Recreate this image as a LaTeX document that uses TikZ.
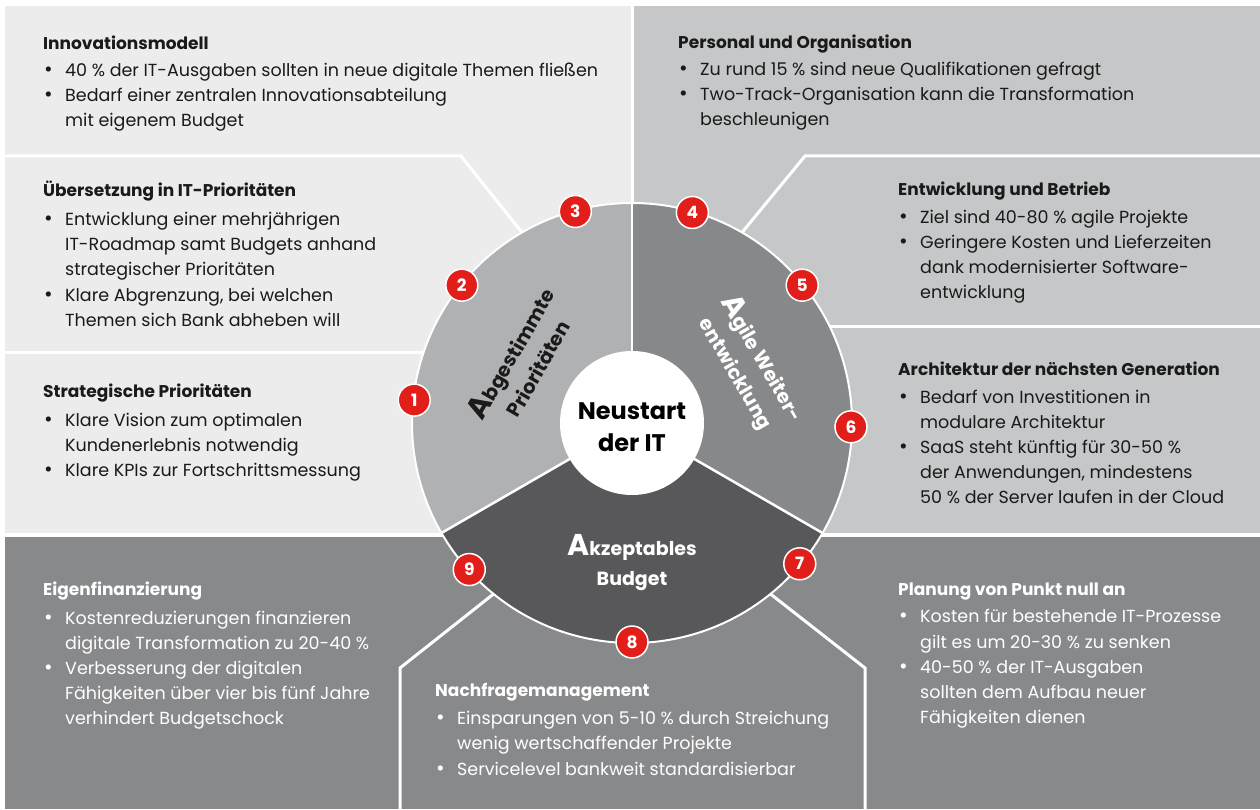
\documentclass[tikz,border=0pt]{standalone}
\usepackage{fontspec}
\setmainfont{Poppins}
\usepackage{tikz}
\usetikzlibrary{positioning}

\definecolor{bglight}{RGB}{235,236,235}
\definecolor{bgmid}{RGB}{198,199,200}
\definecolor{bgdark}{RGB}{136,137,139}
\definecolor{secleft}{RGB}{176,177,179}
\definecolor{secright}{RGB}{135,136,138}
\definecolor{secbottom}{RGB}{88,88,90}
\definecolor{badgered}{RGB}{226,30,26}
\definecolor{ink}{RGB}{26,26,26}

\newcommand{\itm}{\makebox[22pt][l]{\hspace{1pt}{\fontsize{21}{21}\selectfont\textbullet}}}
\newcommand{\cnt}{\hspace*{22pt}}
\newcommand{\hd}[1]{{\fontsize{17}{24}\selectfont\bfseries #1}}
\newcommand{\capA}{{\fontsize{30}{30}\selectfont A}}

\begin{document}
\begin{tikzpicture}[x=1pt,y=1pt]
\tikzstyle{blk}=[anchor=north west,align=left,inner sep=0pt,font=\fontsize{17.5}{25.2}\selectfont,text=ink]
\tikzstyle{blkw}=[blk,text=white]
\tikzstyle{badge}=[circle,fill=badgered,draw=white,line width=1.5pt,minimum size=32pt,inner sep=0pt,text=white,font=\fontsize{17}{17}\selectfont\bfseries]
\tikzstyle{divider}=[draw=white,line width=3pt]
\tikzstyle{ring}=[draw=white,line width=2pt]

\useasboundingbox (0,0) rectangle (1260,809);
\fill[white] (0,0) rectangle (1260,809);
\fill[bgdark] (5,0) rectangle (1260,803);
\fill[bglight] (5,274) rectangle (632,803);
\fill[bgmid] (632,274) rectangle (1260,803);

\coordinate (C) at (632,386);

\draw[divider] (5,274) -- (1260,274);
\draw[divider] (632,803) -- (C);
\draw[divider] (5,653) -- (461,653) -- ([shift={(120:220)}]C);
\draw[divider] (5,456) -- (520,456);
\draw[divider] (1260,653) -- (805,653) -- ([shift={(60:220)}]C);
\draw[divider] (1260,482) -- (760,482);
\draw[divider] (400,0) -- (400,141) -- ([shift={(-129:220)}]C);
\draw[divider] (865,0) -- (865,141) -- ([shift={(-51:220)}]C);

\fill[secleft] (C) -- ++(90:220) arc (90:210:220) -- cycle;
\fill[secright] (C) -- ++(-30:220) arc (-30:90:220) -- cycle;
\fill[secbottom] (C) -- ++(210:220) arc (210:330:220) -- cycle;
\draw[ring] (C) circle (220);
\foreach \a in {90,210,330}
  \draw[ring,line width=2.5pt] (C) -- ++(\a:220);
\fill[white] (C) circle (72);

\node[align=center,text=black,font=\fontsize{24}{32}\selectfont\bfseries] (core) at ([yshift=-4pt]C) {Neustart\\der IT};
\node[align=center,text=ink,rotate=60,font=\fontsize{19.5}{29.5}\selectfont\bfseries] (prio) at ([shift={(150:126)}]C) {\capA bgestimmte\\Prioritäten};
\node[align=center,text=white,rotate=-60,font=\fontsize{19.5}{29.5}\selectfont\bfseries] (agil) at ([shift={(26:131)}]C) {\capA gile Weiter-\\entwicklung};
\node[align=center,text=white,font=\fontsize{19}{30}\selectfont\bfseries] (budget) at (632,246) {\capA kzeptables\\Budget};

\foreach \n/\a in {1/174,2/141,3/105,4/74,5/39,6/-1,7/-40,8/-90,9/-138}
  \node[badge] (b\n) at ([shift={(\a:219)}]C) {\n};

\node[blk] (innov) at (43,773) {\hd{Innovationsmodell}\\[1pt]
\itm 40 \% der IT-Ausgaben sollten in neue digitale Themen fließen\\
\itm Bedarf einer zentralen Innovationsabteilung\\
\cnt mit eigenem Budget};
\node[blk] (uebers) at (43,628) {\hd{Übersetzung in IT-Prioritäten}\\[3.5pt]
\itm Entwicklung einer mehrjährigen\\
\cnt IT-Roadmap samt Budgets anhand\\
\cnt strategischer Prioritäten\\
\itm Klare Abgrenzung, bei welchen\\
\cnt Themen sich Bank abheben will};
\node[blk] (strat) at (43,425) {\hd{Strategische Prioritäten}\\[3pt]
\itm Klare Vision zum optimalen\\
\cnt Kundenerlebnis notwendig\\
\itm Klare KPIs zur Fortschrittsmessung};
\node[blkw] (eigen) at (43,227) {\hd{Eigenfinanzierung}\\[3pt]
\itm Kostenreduzierungen finanzieren\\
\cnt digitale Transformation zu 20-40 \%\\
\itm Verbesserung der digitalen\\
\cnt Fähigkeiten über vier bis fünf Jahre\\
\cnt verhindert Budgetschock};
\node[blkw] (nachfr) at (435,126) {\hd{Nachfragemanagement}\\[3pt]
\itm Einsparungen von 5-10 \% durch Streichung\\
\cnt wenig wertschaffender Projekte\\
\itm Servicelevel bankweit standardisierbar};
\node[blk] (personal) at (678,774) {\hd{Personal und Organisation}\\[1pt]
\itm Zu rund 15 \% sind neue Qualifikationen gefragt\\
\itm Two-Track-Organisation kann die Transformation\\
\cnt beschleunigen};
\node[blk] (entw) at (898,627) {\hd{Entwicklung und Betrieb}\\[2pt]
\itm Ziel sind 40-80 \% agile Projekte\\
\itm Geringere Kosten und Lieferzeiten\\
\cnt dank modernisierter Software-\\
\cnt entwicklung};
\node[blk] (archi) at (898,447) {\hd{Architektur der nächsten Generation}\\[2pt]
\itm Bedarf von Investitionen in\\
\cnt modulare Architektur\\
\itm SaaS steht künftig für 30-50 \%\\
\cnt der Anwendungen, mindestens\\
\cnt 50 \% der Server laufen in der Cloud};
\node[blkw] (planung) at (898,226) {\hd{Planung von Punkt null an}\\[2pt]
\itm Kosten für bestehende IT-Prozesse\\
\cnt gilt es um 20-30 \% zu senken\\
\itm 40-50 \% der IT-Ausgaben\\
\cnt sollten dem Aufbau neuer\\
\cnt Fähigkeiten dienen};
\end{tikzpicture}
\end{document}
